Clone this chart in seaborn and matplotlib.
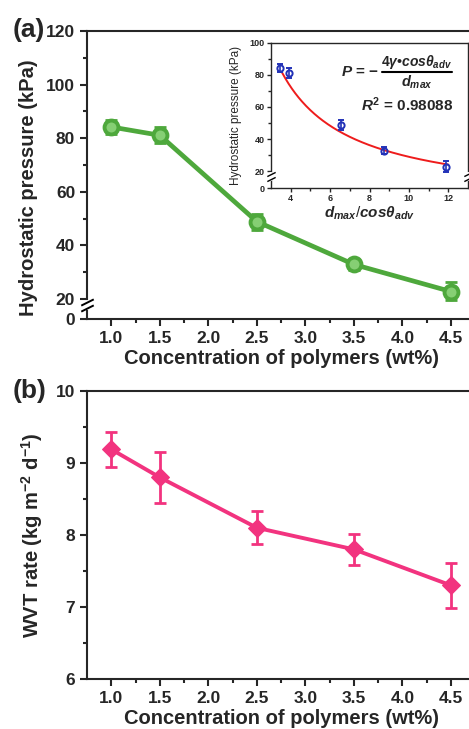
import matplotlib
matplotlib.use("Agg")
import matplotlib.pyplot as plt
import numpy as np
import pandas as pd
import seaborn as sns

# ---- data ----
conc = [1.0, 1.5, 2.5, 3.5, 4.5]
pressure = [84.2, 81.1, 48.9, 32.9, 22.8]
pressure_err = [2.5, 3.0, 3.0, 2.0, 3.5]
wvt = [9.19, 8.80, 8.10, 7.80, 7.30]
wvt_err = [0.24, 0.35, 0.23, 0.21, 0.31]

inset_x = [3.44, 3.91, 6.53, 8.72, 11.88]
inset_p = [84.2, 81.1, 48.9, 32.9, 22.8]
inset_err = [2.5, 3.0, 3.0, 2.0, 3.5]
fit_k = 290.0          # P = k / x  (R^2 = 0.98088)
fit_range = (3.55, 12.0)

GREEN = "#4ea83c"
PINK = "#f2337f"
BLUE = "#2232b8"
RED = "#ee1c1c"

sns.set_style("ticks")
plt.rcParams["font.family"] = ["Liberation Sans", "DejaVu Sans"]
plt.rcParams["font.weight"] = "bold"
plt.rcParams["mathtext.fontset"] = "custom"
plt.rcParams["mathtext.rm"] = "Liberation Sans:bold"
plt.rcParams["mathtext.it"] = "Liberation Sans:bold:italic"
plt.rcParams["mathtext.bf"] = "Liberation Sans:bold"
plt.rcParams["axes.linewidth"] = 1.5
plt.rcParams["xtick.direction"] = "out"
plt.rcParams["ytick.direction"] = "out"


def broken_scale(low):
    # compress 0..20 by factor `low`, linear above 20
    def fwd(y):
        y = np.asarray(y, dtype=float)
        return np.where(y < 20, y * low, 20 * low + (y - 20))

    def inv(v):
        v = np.asarray(v, dtype=float)
        return np.where(v < 20 * low, v / low, v - 20 * low + 20)
    return fwd, inv


def break_marks(ax, x, y0, y1, size=8, lw=1.2):
    tr = ax.get_yaxis_transform()
    ax.plot([x, x], [y0, y1], color="white", lw=3, transform=tr,
            clip_on=False, zorder=5)
    ax.plot([x, x], [y0, y1], marker=[(-1, -0.5), (1, 0.5)], ms=size,
            ls="none", color="k", mec="k", mew=lw, transform=tr,
            clip_on=False, zorder=6)


W, H = 469, 729
fig = plt.figure(figsize=(W / 100, H / 100), dpi=100)

def frac(left, top, right, bottom):
    return [left / W, 1 - bottom / H, (right - left) / W, (bottom - top) / H]

# ---------------- panel (a) ----------------
ax1 = fig.add_axes(frac(87, 31, 475.3, 319))
ax1.set_yscale("function", functions=broken_scale(0.372))
df_a = pd.DataFrame({"conc": conc, "p": pressure})
ax1.errorbar(conc, pressure, yerr=pressure_err, fmt="none", ecolor=GREEN,
             elinewidth=2, capsize=4, capthick=2, zorder=3)
sns.lineplot(data=df_a, x="conc", y="p", ax=ax1, color=GREEN, lw=3.4,
             marker="o", ms=10, mfc="#86cf74", mec=GREEN, mew=2.8, zorder=4)
ax1.set_xlim(0.75, 4.75)
ax1.set_ylim(0, 120)
ax1.set_yticks([0, 20, 40, 60, 80, 100, 120])
ax1.set_yticks([30, 50, 70, 90, 110], minor=True)
ax1.set_xticks([1.0, 1.5, 2.0, 2.5, 3.0, 3.5, 4.0, 4.5])
ax1.set_xticks(np.arange(1.25, 4.75, 0.5), minor=True)
ax1.xaxis.set_major_formatter("{x:.1f}")
ax1.tick_params(labelsize=12.5, width=1.5, length=5)
ax1.tick_params(which="minor", width=1.5, length=3)
ax1.set_xlabel("Concentration of polymers (wt%)", fontsize=14.5,
               fontweight="bold")
ax1.set_ylabel("Hydrostatic pressure (kPa)", fontsize=14.5, fontweight="bold")
ax1.yaxis.set_label_coords(-0.126, 0.455)
ax1.xaxis.labelpad = 2
break_marks(ax1, 0, 11, 17, size=9, lw=1.4)
fig.text(29 / W, 1 - 30 / H, "(a)", fontsize=19, fontweight="bold",
         ha="center", va="center")

# ---------------- inset ----------------
axi = fig.add_axes(frac(271, 42.7, 468, 188))
axi.set_yscale("function", functions=broken_scale(0.52))
xs = np.linspace(fit_range[0], fit_range[1], 200)
df_fit = pd.DataFrame({"x": xs, "p": fit_k / xs})
sns.lineplot(data=df_fit, x="x", y="p", ax=axi, color=RED, lw=1.4)
axi.errorbar(inset_x, inset_p, yerr=inset_err, fmt="o", ms=4.5, mfc="none",
             mec=BLUE, mew=1.4, ecolor=BLUE, elinewidth=1.2, capsize=2,
             capthick=1.2, zorder=4)
axi.set_xlim(3, 13)
axi.set_ylim(0, 100)
axi.set_xticks([4, 6, 8, 10, 12])
axi.set_xticks([5, 7, 9, 11], minor=True)
axi.set_yticks([0, 20, 40, 60, 80, 100])
axi.set_yticks([30, 50, 70, 90], minor=True)
for s in axi.spines.values():
    s.set_linewidth(1.0)
axi.tick_params(labelsize=6.5, width=1.0, length=3, pad=1.5)
axi.tick_params(which="minor", width=1.0, length=2)
axi.set_ylabel("Hydrostatic pressure (kPa)", fontsize=8.5, fontweight="normal")
axi.yaxis.set_label_coords(-0.147, 0.5)
axi.set_xlabel(r"$d_{max}$/$cos\theta_{adv}$", fontsize=11, labelpad=1)
break_marks(axi, 0, 11, 17, size=6, lw=1.0)
break_marks(axi, 1, 11, 17, size=6, lw=1.0)

# equation P = -4γ•cosθadv / dmax, built as stacked text
axi.text(0.545, 0.798, r"$P$ = $-$", transform=axi.transAxes, fontsize=11,
         ha="right", va="center")
axi.text(0.741, 0.865, r"$4\gamma$•$cos\theta_{adv}$",
         transform=axi.transAxes, fontsize=10, ha="center", va="center")
axi.plot([0.563, 0.919], [0.798, 0.798], color="k", lw=1.5,
         transform=axi.transAxes, clip_on=False)
axi.text(0.741, 0.725, r"$d_{max}$", transform=axi.transAxes, fontsize=10.5,
         ha="center", va="center")
axi.text(0.69, 0.571, r"$R^2$ = 0.98088", transform=axi.transAxes,
         fontsize=11, fontweight="bold", ha="center", va="center")

# ---------------- panel (b) ----------------
ax2 = fig.add_axes(frac(87, 391, 475.3, 679))
df_b = pd.DataFrame({"conc": conc, "wvt": wvt})
ax2.errorbar(conc, wvt, yerr=wvt_err, fmt="none", ecolor=PINK,
             elinewidth=2, capsize=4, capthick=2, zorder=3)
sns.lineplot(data=df_b, x="conc", y="wvt", ax=ax2, color=PINK, lw=2.8,
             marker="D", ms=9, mfc=PINK, mec=PINK, zorder=4)
ax2.set_xlim(0.75, 4.75)
ax2.set_ylim(6, 10)
ax2.set_yticks([6, 7, 8, 9, 10])
ax2.set_yticks([6.5, 7.5, 8.5, 9.5], minor=True)
ax2.set_xticks([1.0, 1.5, 2.0, 2.5, 3.0, 3.5, 4.0, 4.5])
ax2.set_xticks(np.arange(1.25, 4.75, 0.5), minor=True)
ax2.xaxis.set_major_formatter("{x:.1f}")
ax2.tick_params(labelsize=12.5, width=1.5, length=5)
ax2.tick_params(which="minor", width=1.5, length=3)
ax2.set_xlabel("Concentration of polymers (wt%)", fontsize=14.5,
               fontweight="bold")
ax2.set_ylabel(r"WVT rate (kg m$^{-2}$ d$^{-1}$)", fontsize=14.5,
               fontweight="bold")
ax2.yaxis.set_label_coords(-0.108, 0.5)
ax2.xaxis.labelpad = 2
fig.text(30 / W, 1 - 391 / H, "(b)", fontsize=19, fontweight="bold",
         ha="center", va="center")

fig.savefig("out.png", dpi=100)
plt.close(fig)
